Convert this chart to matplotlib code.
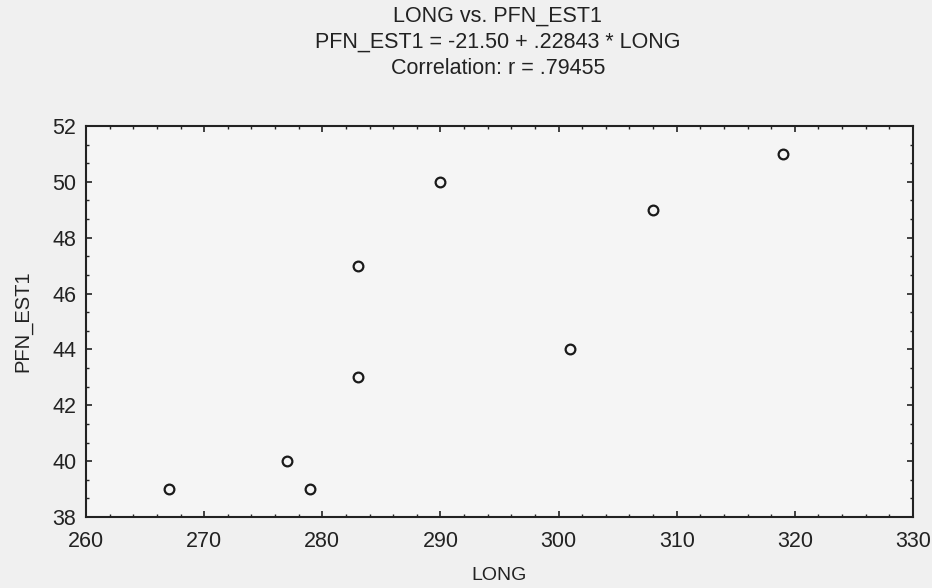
import matplotlib
matplotlib.use("Agg")
import matplotlib.pyplot as plt
from matplotlib.ticker import MultipleLocator

# values
long_vals = [267, 277, 279, 283, 283, 290, 301, 308, 319]
pfn_est1 = [39, 40, 39, 47, 43, 50, 44, 49, 51]

x_ticks = [260, 270, 280, 290, 300, 310, 320, 330]
y_ticks = [38, 40, 42, 44, 46, 48, 50, 52]

plt.rcParams['font.family'] = ['Liberation Sans', 'DejaVu Sans']

fig = plt.figure(figsize=(9.32, 5.88), dpi=100, facecolor='#f0f0f0')
ax = fig.add_axes([0.0923, 0.1207, 0.8873, 0.665])
ax.set_facecolor('#f5f5f5')

ax.plot(long_vals, pfn_est1, linestyle='none', marker='o', markersize=7,
        markerfacecolor='none', markeredgecolor='#1a1a1a', markeredgewidth=1.6)

ax.set_xlim(260, 330)
ax.set_ylim(38, 52)
ax.set_xticks(x_ticks)
ax.set_yticks(y_ticks)
ax.xaxis.set_minor_locator(MultipleLocator(2))
ax.yaxis.set_minor_locator(MultipleLocator(2 / 3))
ax.tick_params(which='both', direction='in', top=True, right=True,
               colors='#222222', labelcolor='#222222', labelsize=15.5)
ax.tick_params(axis='x', which='major', pad=10)
ax.tick_params(axis='y', which='major', pad=7)
ax.tick_params(which='major', length=4, width=1.2)
ax.tick_params(which='minor', length=2.5, width=1.0)
for s in ax.spines.values():
    s.set_linewidth(1.5)
    s.set_color('#222222')

ax.set_xlabel('LONG', fontsize=14, color='#222222', labelpad=11)
ax.set_ylabel('PFN_EST1', fontsize=14.5, color='#222222', labelpad=14)

fig.text(0.534, 0.972, 'LONG vs. PFN_EST1', ha='center', va='center',
         fontsize=15.5, color='#222222')
fig.text(0.534, 0.928, 'PFN_EST1 = -21.50 + .22843 * LONG', ha='center',
         va='center', fontsize=15.5, color='#222222')
fig.text(0.534, 0.884, 'Correlation: r = .79455', ha='center', va='center',
         fontsize=15.5, color='#222222')

fig.savefig('out.png', dpi=100, facecolor=fig.get_facecolor())
